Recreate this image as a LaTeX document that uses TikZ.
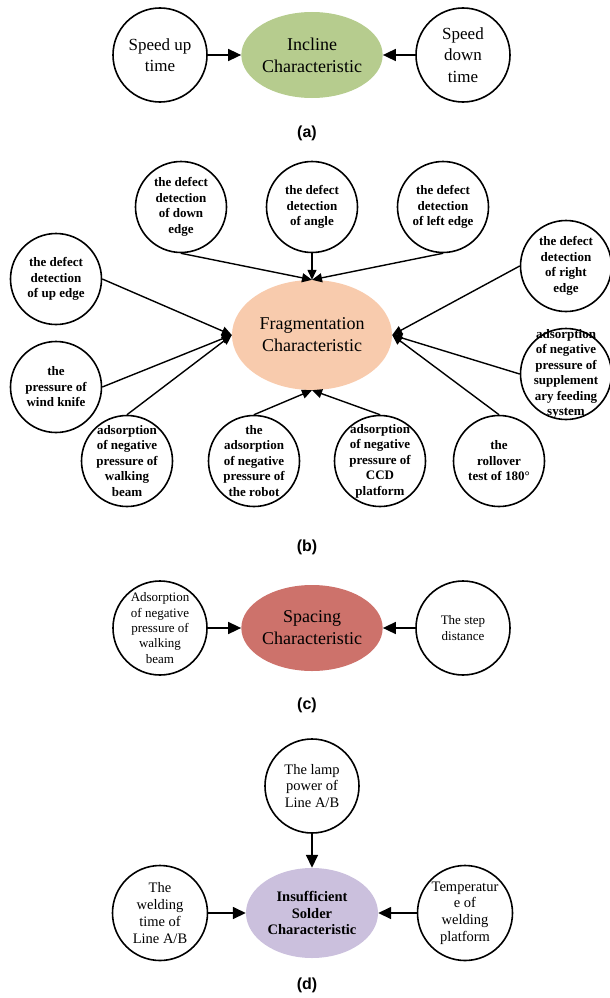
\documentclass[tikz,border=0pt]{standalone}
\usepackage{fontspec}
\setmainfont{Liberation Serif}
\newfontfamily\capfont{Liberation Sans}
\usetikzlibrary{arrows.meta,shapes.geometric}
\definecolor{inclinegreen}{RGB}{182,204,142}
\definecolor{fragpeach}{RGB}{248,203,173}
\definecolor{spacingred}{RGB}{205,114,107}
\definecolor{solderlilac}{RGB}{203,192,221}
\begin{document}
\begin{tikzpicture}[x=1pt,y=-1pt,
  bubble/.style={draw,circle,line width=1.6pt,minimum size=#1,inner sep=0pt},
  bubble/.default=91pt,
  core/.style={ellipse,inner sep=0pt,align=center,font=\fontsize{18}{22}\selectfont},
  txtA/.style={align=center,font=\fontsize{17}{21.5}\selectfont},
  txtB/.style={align=center,font=\bfseries\fontsize{13}{15.5}\selectfont},
  txtC/.style={align=center,font=\fontsize{13}{15.3}\selectfont},
  txtD/.style={align=center,font=\fontsize{14.5}{16.7}\selectfont},
  caption/.style={font=\capfont\bfseries\fontsize{16}{19}\selectfont},
  bigarrow/.style={line width=1.6pt,-{Triangle[length=13pt,width=12pt]}},
  smallarrow/.style={line width=1.4pt,-{Triangle[length=10pt,width=9pt]}}]
\useasboundingbox (0,0) rectangle (610,998);

% ---------- (a) incline ----------
\node[bubble=94pt] (su) at (160,55) {};
\node[txtA] (sut) at (su) {Speed up\\time};
\node[core,fill=inclinegreen,minimum width=132pt,minimum height=86pt] (inc) at (312,55) {Incline\\Characteristic};
\node[bubble=94pt] (sd) at (463,55) {};
\node[txtA] (sdt) at (sd) {Speed\\down\\time};
\draw[bigarrow] (su.east) -- (inc.west);
\draw[bigarrow] (sd.west) -- (inc.east);
\node[caption] (capa) at (307,133) {(a)};

% ---------- (b) fragmentation ----------
\node[core,fill=fragpeach,minimum width=160pt,minimum height=110pt] (frag) at (312,335) {Fragmentation\\Characteristic};

\node[bubble] (dn) at (181,207) {};
\node[txtB] (dnt) at (dn) {the defect\\detection\\of down\\edge};
\node[bubble] (an) at (312,207) {};
\node[txtB] (ant) at (an) {the defect\\detection\\of angle};
\node[bubble] (le) at (443,207) {};
\node[txtB] (let) at (le) {the defect\\detection\\of left edge};
\node[bubble] (up) at (56,279) {};
\node[txtB] (upt) at (up) {the defect\\detection\\of up edge};
\node[bubble] (ri) at (566,266) {};
\node[txtB] (rit) at (ri) {the defect\\detection\\of right\\edge};
\node[bubble] (wk) at (56,387) {};
\node[txtB] (wkt) at (wk) {the\\pressure of\\wind knife};
\node[bubble] (sf) at (566,374) {};
\node[txtB] (sft) at (sf) {adsorption\\of negative\\pressure of\\supplement\\ary feeding\\system};
\node[bubble] (wb) at (127,461) {};
\node[txtB] (wbt) at (wb) {adsorption\\of negative\\pressure of\\walking\\beam};
\node[bubble] (rb) at (254,461) {};
\node[txtB] (rbt) at (rb) {the\\adsorption\\of negative\\pressure of\\the robot};
\node[bubble] (cc) at (380,461) {};
\node[txtB] (cct) at (cc) {adsorption\\of negative\\pressure of\\CCD\\platform};
\node[bubble] (ro) at (499,461) {};
\node[txtB] (rot) at (ro) {the\\rollover\\test of 180°};

\draw[smallarrow] (dn.south) -- (frag.north);
\draw[smallarrow] (an.south) -- (frag.north);
\draw[smallarrow] (le.south) -- (frag.north);
\draw[smallarrow] (up.east) -- (frag.west);
\draw[smallarrow] (wk.east) -- (frag.west);
\draw[smallarrow] (wb.north) -- (frag.west);
\draw[smallarrow] (rb.north) -- (frag.south);
\draw[smallarrow] (cc.north) -- (frag.south);
\draw[smallarrow] (ri.west) -- (frag.east);
\draw[smallarrow] (sf.west) -- (frag.east);
\draw[smallarrow] (ro.north) -- (frag.east);
\node[caption] (capb) at (307,547) {(b)};

% ---------- (c) spacing ----------
\node[bubble=94pt] (ab) at (160,628) {};
\node[txtC] (abt) at (ab) {Adsorption\\of negative\\pressure of\\walking\\beam};
\node[core,fill=spacingred,minimum width=132pt,minimum height=86pt] (spc) at (312,628) {Spacing\\Characteristic};
\node[bubble=94pt] (st) at (463,628) {};
\node[txtC] (stt) at (st) {The step\\distance};
\draw[bigarrow] (ab.east) -- (spc.west);
\draw[bigarrow] (st.west) -- (spc.east);
\node[caption] (capc) at (307,705) {(c)};

% ---------- (d) insufficient solder ----------
\node[bubble=94pt] (lp) at (312,786) {};
\node[txtD] (lpt) at (lp) {The lamp\\power of\\Line A/B};
\node[core,fill=solderlilac,minimum width=132pt,minimum height=90pt,font=\bfseries\fontsize{14.5}{16.7}\selectfont] (sol) at (312,913) {Insufficient\\Solder\\Characteristic};
\node[bubble=95pt] (wt) at (160,913) {};
\node[txtD] (wtt) at (wt) {The\\welding\\time of\\Line A/B};
\node[bubble=95pt] (tp) at (465,913) {};
\node[txtD] (tpt) at (tp) {Temperatur\\e of\\welding\\platform};
\draw[bigarrow] (lp.south) -- (sol.north);
\draw[bigarrow] (wt.east) -- (sol.west);
\draw[bigarrow] (tp.west) -- (sol.east);
\node[caption] (capd) at (307,985) {(d)};
\end{tikzpicture}
\end{document}
